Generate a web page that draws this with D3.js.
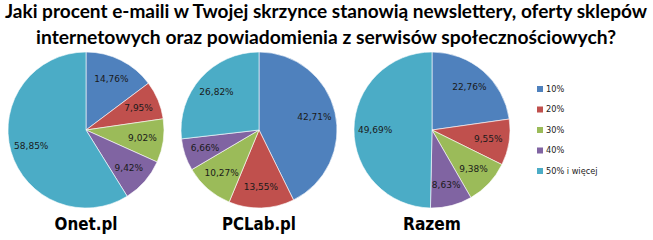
<!DOCTYPE html>
<html><head><meta charset="utf-8">
<script src="https://cdn.jsdelivr.net/npm/d3@7"></script>
<style>body{margin:0;background:#fff}svg{display:block}</style>
</head><body>
<svg id="c" width="653" height="240"></svg>
<script>
const categories = ["10%", "20%", "30%", "40%", "50% i więcej"];
const onetValues = [14.76, 7.95, 9.02, 9.42, 58.85];
const pclabValues = [42.71, 13.55, 10.27, 6.66, 26.82];
const razemValues = [22.76, 9.55, 9.38, 8.63, 49.69];
const pieNames = ["Onet.pl", "PCLab.pl", "Razem"];
const colors = ["#4F81BD", "#C0504D", "#9BBB59", "#8064A2", "#4BACC6"];
const titleLines = ["Jaki procent e-maili w Twojej skrzynce stanowią newslettery, oferty sklepów",
                    "internetowych oraz powiadomienia z serwisów  społecznościowych?"];

const svg = d3.select("#c");
const titleWidths = [642, 580];
svg.selectAll("text.title").data(titleLines).enter().append("text")
  .attr("class","title")
  .attr("x", 326).attr("y", (d,i)=> 18 + i*26)
  .attr("text-anchor","middle")
  .attr("font-family","Lato, 'Open Sans', sans-serif")
  .attr("font-weight","bold").attr("font-size", 19)
  .attr("textLength", (d,i)=>titleWidths[i]).attr("lengthAdjust","spacingAndGlyphs")
  .attr("fill","#000").text(d=>d);

const color = d3.scaleOrdinal().domain(categories).range(colors);
const r = 78;
const centersX = d3.scalePoint().domain(pieNames).range([86, 432]);
const cy = 130;
const pie = d3.pie().sort(null).value(d=>d.v);
const arc = d3.arc().innerRadius(0).outerRadius(r);
const labelArc = d3.arc().innerRadius(r*0.73).outerRadius(r*0.73);
const fmt = v => v.toFixed(2).replace(".", ",") + "%";
const nameWidths = [63, 74, 58];

[onetValues, pclabValues, razemValues].forEach((vals, k) => {
  const name = pieNames[k];
  const g = svg.append("g").attr("transform", `translate(${centersX(name)},${cy})`);
  const data = pie(vals.map((v,i)=>({v, c: categories[i]})));
  g.selectAll("path").data(data).enter().append("path")
    .attr("d", arc).attr("fill", d=>color(d.data.c))
    .attr("stroke","#fff").attr("stroke-width",0.6);
  g.selectAll("text").data(data).enter().append("text")
    .attr("transform", d=>`translate(${labelArc.centroid(d)})`)
    .attr("text-anchor","middle").attr("dy","0.35em")
    .attr("font-family","'DejaVu Sans', Verdana, sans-serif")
    .attr("font-size", 9).attr("fill","#1a1a1a")
    .text(d=>fmt(d.data.v));
  svg.append("text").attr("x", centersX(name)).attr("y", 230)
    .attr("text-anchor","middle")
    .attr("font-family","'DejaVu Sans', Verdana, sans-serif")
    .attr("font-weight","bold").attr("font-size", 17.5)
    .attr("textLength", nameWidths[k]).attr("lengthAdjust","spacingAndGlyphs")
    .attr("fill","#000").text(name);
});

const legY = d3.scalePoint().domain(categories).range([89, 171]);
const leg = svg.append("g");
categories.forEach(c => {
  leg.append("rect").attr("x", 537).attr("y", legY(c)-3).attr("width",6).attr("height",6).attr("fill", color(c));
  leg.append("text").attr("x", 546).attr("y", legY(c)).attr("dy","0.35em")
    .attr("font-family","'DejaVu Sans', Verdana, sans-serif")
    .attr("font-size", 8.2).attr("fill","#1a1a1a").text(c);
});
</script>
</body></html>
